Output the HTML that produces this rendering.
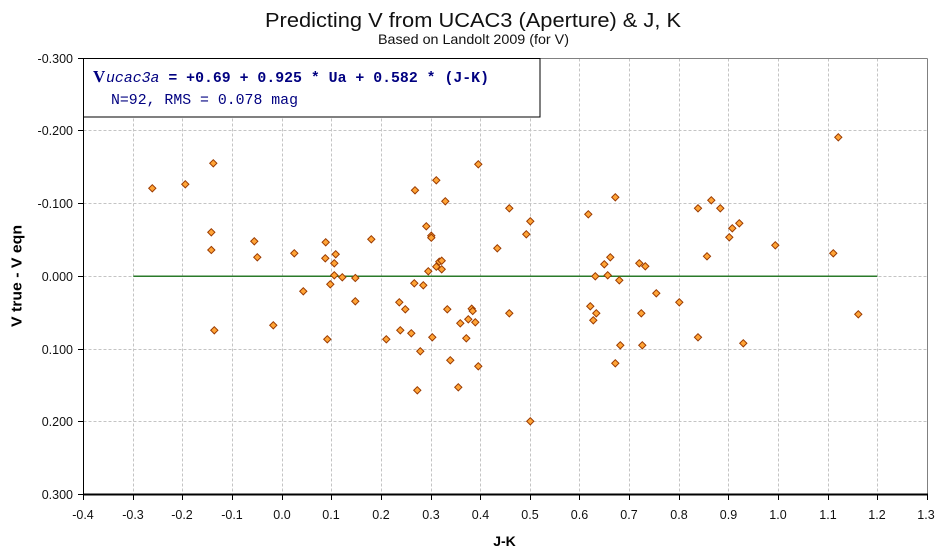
<!DOCTYPE html>
<html>
<head>
<meta charset="utf-8">
<style>
html,body{margin:0;padding:0;background:#fff;}
svg{display:block;}
</style>
</head>
<body>
<svg width="946" height="557" viewBox="0 0 946 557" xmlns="http://www.w3.org/2000/svg">
<defs>
<path id="m" d="M0,-3.6L3.6,0L0,3.6L-3.6,0Z" fill="#ffa436" stroke="#9a3a00" stroke-width="1"/>
</defs>
<rect x="0" y="0" width="946" height="557" fill="#fff"/>

<text x="473" y="27" text-anchor="middle" font-family="Liberation Sans, Arial, sans-serif" font-size="20" fill="#111" textLength="416" lengthAdjust="spacingAndGlyphs">Predicting V from UCAC3 (Aperture) &amp; J, K</text>
<text x="473.5" y="44" text-anchor="middle" font-family="Liberation Sans, Arial, sans-serif" font-size="14" fill="#111" textLength="191" lengthAdjust="spacingAndGlyphs">Based on Landolt 2009 (for V)</text>

<g stroke="#c4c4c4" stroke-width="1" stroke-dasharray="3,2" fill="none">
<line x1="133.5" y1="58.5" x2="133.5" y2="494"/>
<line x1="182.5" y1="58.5" x2="182.5" y2="494"/>
<line x1="232.5" y1="58.5" x2="232.5" y2="494"/>
<line x1="282.5" y1="58.5" x2="282.5" y2="494"/>
<line x1="331.5" y1="58.5" x2="331.5" y2="494"/>
<line x1="381.5" y1="58.5" x2="381.5" y2="494"/>
<line x1="431.5" y1="58.5" x2="431.5" y2="494"/>
<line x1="480.5" y1="58.5" x2="480.5" y2="494"/>
<line x1="530.5" y1="58.5" x2="530.5" y2="494"/>
<line x1="579.5" y1="58.5" x2="579.5" y2="494"/>
<line x1="629.5" y1="58.5" x2="629.5" y2="494"/>
<line x1="679.5" y1="58.5" x2="679.5" y2="494"/>
<line x1="728.5" y1="58.5" x2="728.5" y2="494"/>
<line x1="778.5" y1="58.5" x2="778.5" y2="494"/>
<line x1="828.5" y1="58.5" x2="828.5" y2="494"/>
<line x1="877.5" y1="58.5" x2="877.5" y2="494"/>
<line x1="83.5" y1="130.5" x2="927.5" y2="130.5"/>
<line x1="83.5" y1="203.5" x2="927.5" y2="203.5"/>
<line x1="83.5" y1="276.5" x2="927.5" y2="276.5"/>
<line x1="83.5" y1="349.5" x2="927.5" y2="349.5"/>
<line x1="83.5" y1="421.5" x2="927.5" y2="421.5"/>
</g>

<g stroke="#808080" stroke-width="1" fill="none">
<line x1="83.5" y1="58.5" x2="927.5" y2="58.5"/>
<line x1="927.5" y1="58.5" x2="927.5" y2="494"/>
</g>

<g stroke="#000" stroke-width="1" fill="none">
<line x1="83.5" y1="58" x2="83.5" y2="495"/>
<line x1="83" y1="494.5" x2="928" y2="494.5" stroke-width="2"/>
<line x1="78" y1="58.5" x2="83" y2="58.5"/>
<line x1="78" y1="130.5" x2="83" y2="130.5"/>
<line x1="78" y1="203.5" x2="83" y2="203.5"/>
<line x1="78" y1="276.5" x2="83" y2="276.5"/>
<line x1="78" y1="349.5" x2="83" y2="349.5"/>
<line x1="78" y1="421.5" x2="83" y2="421.5"/>
<line x1="78" y1="494.5" x2="83" y2="494.5"/>
<line x1="83.5" y1="494" x2="83.5" y2="500"/>
<line x1="133.5" y1="494" x2="133.5" y2="500"/>
<line x1="182.5" y1="494" x2="182.5" y2="500"/>
<line x1="232.5" y1="494" x2="232.5" y2="500"/>
<line x1="282.5" y1="494" x2="282.5" y2="500"/>
<line x1="331.5" y1="494" x2="331.5" y2="500"/>
<line x1="381.5" y1="494" x2="381.5" y2="500"/>
<line x1="431.5" y1="494" x2="431.5" y2="500"/>
<line x1="480.5" y1="494" x2="480.5" y2="500"/>
<line x1="530.5" y1="494" x2="530.5" y2="500"/>
<line x1="579.5" y1="494" x2="579.5" y2="500"/>
<line x1="629.5" y1="494" x2="629.5" y2="500"/>
<line x1="679.5" y1="494" x2="679.5" y2="500"/>
<line x1="728.5" y1="494" x2="728.5" y2="500"/>
<line x1="778.5" y1="494" x2="778.5" y2="500"/>
<line x1="828.5" y1="494" x2="828.5" y2="500"/>
<line x1="877.5" y1="494" x2="877.5" y2="500"/>
<line x1="927.5" y1="494" x2="927.5" y2="500"/>
</g>

<g font-family="Liberation Sans, Arial, sans-serif" font-size="12.5" fill="#111" text-anchor="end">
<text x="73" y="63">-0.300</text>
<text x="73" y="135">-0.200</text>
<text x="73" y="208">-0.100</text>
<text x="73" y="281">0.000</text>
<text x="73" y="354">0.100</text>
<text x="73" y="426">0.200</text>
<text x="73" y="499">0.300</text>
</g>

<g font-family="Liberation Sans, Arial, sans-serif" font-size="12.5" fill="#111" text-anchor="middle">
<text x="83" y="519">-0.4</text>
<text x="133" y="519">-0.3</text>
<text x="182" y="519">-0.2</text>
<text x="232" y="519">-0.1</text>
<text x="282" y="519">0.0</text>
<text x="331" y="519">0.1</text>
<text x="381" y="519">0.2</text>
<text x="431" y="519">0.3</text>
<text x="480.5" y="519">0.4</text>
<text x="530" y="519">0.5</text>
<text x="579.5" y="519">0.6</text>
<text x="629" y="519">0.7</text>
<text x="679" y="519">0.8</text>
<text x="728.5" y="519">0.9</text>
<text x="778" y="519">1.0</text>
<text x="828" y="519">1.1</text>
<text x="877" y="519">1.2</text>
<text x="926" y="519">1.3</text>
</g>

<text x="504.5" y="546" text-anchor="middle" font-family="Liberation Sans, Arial, sans-serif" font-size="14" font-weight="bold" fill="#000">J-K</text>
<text transform="translate(21.5,276) rotate(-90)" text-anchor="middle" font-family="Liberation Sans, Arial, sans-serif" font-size="14.5" font-weight="bold" fill="#000" textLength="102" lengthAdjust="spacingAndGlyphs">V true - V eqn</text>

<line x1="133.3" y1="276.3" x2="877.3" y2="276.3" stroke="#2a7a2a" stroke-width="1.5"/>

<g>
<use href="#m" x="152.3" y="188.3"/>
<use href="#m" x="185.3" y="184.3"/>
<use href="#m" x="213.3" y="163.3"/>
<use href="#m" x="211.3" y="232.3"/>
<use href="#m" x="211.3" y="250"/>
<use href="#m" x="214.3" y="330.3"/>
<use href="#m" x="254.3" y="241.3"/>
<use href="#m" x="257.3" y="257.3"/>
<use href="#m" x="273.3" y="325.3"/>
<use href="#m" x="294.3" y="253.3"/>
<use href="#m" x="303.3" y="291.3"/>
<use href="#m" x="325.7" y="242.3"/>
<use href="#m" x="325.3" y="258.3"/>
<use href="#m" x="335.7" y="254.3"/>
<use href="#m" x="334.3" y="263.3"/>
<use href="#m" x="334.3" y="275.3"/>
<use href="#m" x="342.3" y="277.3"/>
<use href="#m" x="355.3" y="278"/>
<use href="#m" x="330.3" y="284.3"/>
<use href="#m" x="355.3" y="301.3"/>
<use href="#m" x="327.3" y="339.3"/>
<use href="#m" x="371.3" y="239.3"/>
<use href="#m" x="386.3" y="339.3"/>
<use href="#m" x="415" y="190.3"/>
<use href="#m" x="436.3" y="180.3"/>
<use href="#m" x="445.3" y="201.3"/>
<use href="#m" x="426.3" y="226.3"/>
<use href="#m" x="431.3" y="235.7"/>
<use href="#m" x="431.3" y="237.7"/>
<use href="#m" x="439.3" y="261.7"/>
<use href="#m" x="441.7" y="260.7"/>
<use href="#m" x="436.3" y="266.7"/>
<use href="#m" x="441.7" y="269.3"/>
<use href="#m" x="428.3" y="271.3"/>
<use href="#m" x="414.3" y="283.3"/>
<use href="#m" x="423.3" y="285.3"/>
<use href="#m" x="399.3" y="302.3"/>
<use href="#m" x="405.3" y="309.3"/>
<use href="#m" x="447.3" y="309.3"/>
<use href="#m" x="471.7" y="308.7"/>
<use href="#m" x="472.7" y="311"/>
<use href="#m" x="460.3" y="323.3"/>
<use href="#m" x="468.3" y="319.3"/>
<use href="#m" x="475.3" y="322.3"/>
<use href="#m" x="400.3" y="330.3"/>
<use href="#m" x="411.3" y="333.3"/>
<use href="#m" x="432.3" y="337.3"/>
<use href="#m" x="466.3" y="338.3"/>
<use href="#m" x="420.3" y="351.3"/>
<use href="#m" x="450.3" y="360.3"/>
<use href="#m" x="478.3" y="366.3"/>
<use href="#m" x="417.3" y="390.3"/>
<use href="#m" x="458.3" y="387.3"/>
<use href="#m" x="497.3" y="248.3"/>
<use href="#m" x="478.3" y="164.3"/>
<use href="#m" x="509.3" y="208.3"/>
<use href="#m" x="530.3" y="221.3"/>
<use href="#m" x="526.3" y="234.3"/>
<use href="#m" x="615.3" y="197.3"/>
<use href="#m" x="588.3" y="214.3"/>
<use href="#m" x="698" y="208.3"/>
<use href="#m" x="707" y="256.3"/>
<use href="#m" x="610.3" y="257.3"/>
<use href="#m" x="604.3" y="264.3"/>
<use href="#m" x="639.3" y="263.3"/>
<use href="#m" x="645.3" y="266.3"/>
<use href="#m" x="595.3" y="276.3"/>
<use href="#m" x="607.7" y="275.3"/>
<use href="#m" x="619.3" y="280.3"/>
<use href="#m" x="656.3" y="293.3"/>
<use href="#m" x="679.3" y="302.3"/>
<use href="#m" x="590.3" y="306.3"/>
<use href="#m" x="596.3" y="313.3"/>
<use href="#m" x="593.3" y="320.3"/>
<use href="#m" x="641.3" y="313.3"/>
<use href="#m" x="509.3" y="313.3"/>
<use href="#m" x="620.3" y="345.3"/>
<use href="#m" x="642.3" y="345.3"/>
<use href="#m" x="615.3" y="363.3"/>
<use href="#m" x="698" y="337.3"/>
<use href="#m" x="530.3" y="421.3"/>
<use href="#m" x="838.3" y="137.3"/>
<use href="#m" x="711.3" y="200.3"/>
<use href="#m" x="720.3" y="208.3"/>
<use href="#m" x="739.3" y="223.3"/>
<use href="#m" x="732.3" y="228.3"/>
<use href="#m" x="729.3" y="237.3"/>
<use href="#m" x="775.3" y="245.3"/>
<use href="#m" x="833.3" y="253.3"/>
<use href="#m" x="858.3" y="314.3"/>
<use href="#m" x="743.3" y="343.3"/>
</g>

<rect x="83.5" y="58.5" width="456.5" height="58.5" fill="#fff" stroke="#000" stroke-width="1"/>
<text x="93" y="82" font-family="Liberation Serif, Times New Roman, serif" font-size="17" font-weight="bold" fill="#000080">V</text>
<text x="106" y="82" font-family="Liberation Mono, Courier New, monospace" font-size="14.8" fill="#000080" textLength="383" lengthAdjust="spacingAndGlyphs"><tspan font-style="italic">ucac3a</tspan><tspan font-weight="bold"> = +0.69 + 0.925 * Ua + 0.582 * (J-K)</tspan></text>
<text x="111" y="104" font-family="Liberation Mono, Courier New, monospace" font-size="14.8" fill="#000080" textLength="187" lengthAdjust="spacingAndGlyphs">N=92, RMS = 0.078 mag</text>
</svg>
</body>
</html>
